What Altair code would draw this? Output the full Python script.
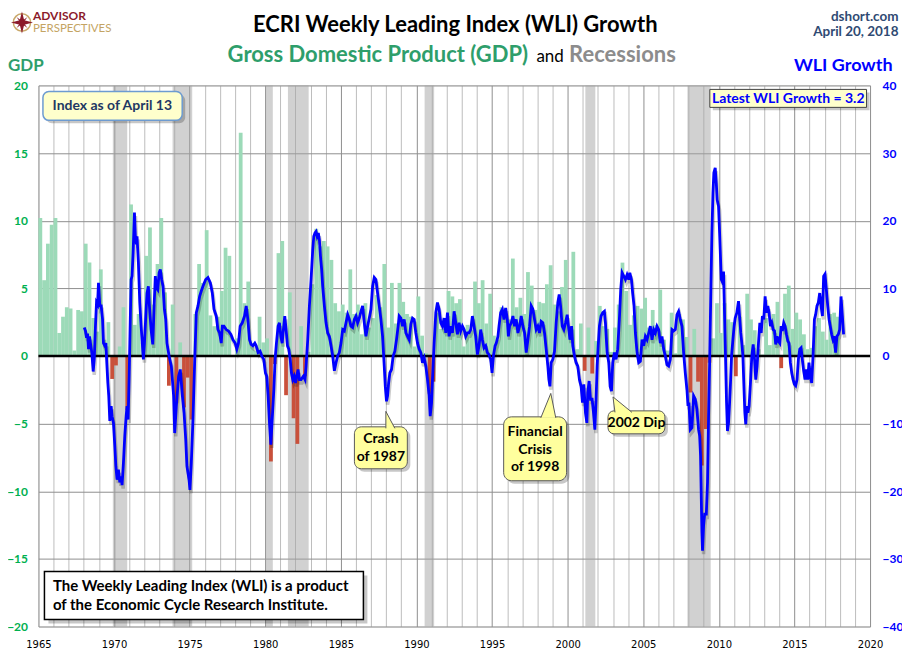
import altair as alt
import pandas as pd

# ---------------- data ----------------
gdp_first_year = 1965
# real GDP growth, quarterly (annualised %), 1965Q1 .. 2017Q4
gdp_growth = [
    10.2, 5.6, 8.3, 9.7,    # 1965
    10.2, 1.7, 2.9, 3.6,    # 1966
    3.5, 0.4, 3.4, 3.3,     # 1967
    8.3, 6.9, 2.8, 1.8,     # 1968
    6.4, 1.2, 2.5, -1.7,    # 1969
    -0.7, 0.7, 3.6, -4.0,   # 1970
    11.2, 2.3, 3.1, 1.0,    # 1971
    7.4, 9.5, 3.8, 6.8,     # 1972
    10.2, 4.7, -2.2, 3.8,   # 1973
    -3.5, 1.0, -3.8, -1.6,  # 1974
    -4.7, 3.1, 6.8, 5.4,    # 1975
    9.3, 3.0, 2.2, 2.9,     # 1976
    4.8, 8.0, 7.4, 0.0,     # 1977
    1.3, 16.5, 3.9, 5.5,    # 1978
    0.7, 0.4, 2.9, 1.0,     # 1979
    1.3, -7.8, -0.6, 7.6,   # 1980
    8.5, -2.9, 4.7, -4.6,   # 1981
    -6.5, 2.2, -1.5, 0.3,   # 1982
    5.3, 9.4, 8.1, 8.5,     # 1983
    8.1, 7.1, 3.9, 3.3,     # 1984
    3.8, 3.2, 6.4, 3.1,     # 1985
    3.8, 1.6, 3.9, 2.1,     # 1986
    2.8, 4.5, 3.6, 6.8,     # 1987
    2.1, 5.4, 2.4, 5.4,     # 1988
    4.0, 3.1, 2.9, 0.7,     # 1989
    4.4, 1.5, 0.2, -2.8,    # 1990
    -1.9, 3.2, 2.0, 2.0,    # 1991
    4.8, 4.4, 3.9, 4.2,     # 1992
    0.7, 2.3, 1.9, 5.5,     # 1993
    3.9, 5.6, 2.4, 4.6,     # 1994
    1.5, 1.2, 3.6, 2.9,     # 1995
    2.7, 7.2, 3.6, 4.3,     # 1996
    3.1, 6.2, 5.2, 3.4,     # 1997
    4.0, 3.9, 5.3, 6.7,     # 1998
    3.8, 3.3, 5.1, 7.1,     # 1999
    1.5, 7.7, 0.5, 2.4,     # 2000
    -1.1, 2.1, -1.3, 1.1,   # 2001
    3.7, 2.2, 2.0, 0.3,     # 2002
    2.1, 3.8, 6.9, 4.8,     # 2003
    2.3, 3.0, 3.7, 3.5,     # 2004
    4.3, 2.1, 3.4, 2.3,     # 2005
    4.9, 1.2, 0.4, 3.2,     # 2006
    0.2, 3.1, 2.7, 1.4,     # 2007
    -2.7, 2.0, -1.9, -8.1,  # 2008
    -5.4, -0.5, 1.3, 3.9,   # 2009
    1.7, 3.9, 2.7, 2.5,     # 2010
    -1.5, 2.9, 0.8, 4.6,    # 2011
    2.7, 1.9, 0.5, 0.1,     # 2012
    2.8, 0.8, 3.1, 4.0,     # 2013
    -0.9, 4.6, 5.2, 2.0,    # 2014
    3.2, 2.7, 1.6, 0.5,     # 2015
    0.6, 2.2, 2.8, 1.8,     # 2016
    1.2, 3.1, 3.2, 2.9,     # 2017
]

# NBER recessions (decimal years)
rec_start = [1969.92, 1973.87, 1980.00, 1981.50, 1990.54, 2001.17, 2007.92]
rec_end = [1970.87, 1975.17, 1980.50, 1982.87, 1991.17, 2001.83, 2009.46]

# ECRI WLI growth
wli_year = [
    1968.03, 1968.11, 1968.18, 1968.25, 1968.31, 1968.38, 1968.44, 1968.53, 1968.62, 1968.69, 1968.77, 1968.84, 1968.91, 1968.97,
    1969.06, 1969.15, 1969.24, 1969.30, 1969.39, 1969.46, 1969.52, 1969.59, 1969.65, 1969.72, 1969.81, 1969.87, 1969.96,
    1970.05, 1970.12, 1970.20, 1970.29, 1970.38, 1970.47, 1970.53, 1970.62, 1970.71, 1970.80, 1970.86, 1970.93,
    1971.00, 1971.06, 1971.13, 1971.19, 1971.26, 1971.35, 1971.41, 1971.48, 1971.52, 1971.61, 1971.70, 1971.79, 1971.88, 1971.94,
    1972.01, 1972.10, 1972.18, 1972.27, 1972.34, 1972.45, 1972.56, 1972.65, 1972.73, 1972.80, 1972.89, 1972.98,
    1973.06, 1973.15, 1973.24, 1973.33, 1973.42, 1973.50, 1973.64, 1973.79, 1973.94,
    1974.01, 1974.12, 1974.27, 1974.38, 1974.52, 1974.63, 1974.74, 1974.82, 1974.96,
    1975.02, 1975.11, 1975.22, 1975.33, 1975.44, 1975.55, 1975.66, 1975.77, 1975.88,
    1976.06, 1976.21, 1976.37, 1976.50, 1976.61, 1976.76, 1976.87, 1976.98,
    1977.09, 1977.16, 1977.27, 1977.42, 1977.57, 1977.73, 1977.86,
    1978.01, 1978.12, 1978.23, 1978.34, 1978.48, 1978.63, 1978.74, 1978.85, 1978.96,
    1979.07, 1979.18, 1979.31, 1979.40, 1979.53, 1979.66, 1979.77, 1979.90,
    1980.01, 1980.10, 1980.19, 1980.28, 1980.37, 1980.46, 1980.57, 1980.65, 1980.74, 1980.85, 1980.94,
    1981.03, 1981.12, 1981.20, 1981.29, 1981.38, 1981.47, 1981.56, 1981.65, 1981.73, 1981.82, 1981.91,
    1982.00, 1982.08, 1982.17, 1982.26, 1982.37, 1982.52, 1982.63, 1982.70, 1982.81, 1982.92,
    1983.03, 1983.14, 1983.21, 1983.29, 1983.36, 1983.43, 1983.51, 1983.58, 1983.65, 1983.73, 1983.80, 1983.91,
    1984.02, 1984.13, 1984.24, 1984.35, 1984.46, 1984.57, 1984.68, 1984.79, 1984.90,
    1985.01, 1985.12, 1985.23, 1985.34, 1985.45, 1985.56, 1985.67, 1985.78, 1985.89,
    1986.00, 1986.11, 1986.22, 1986.33, 1986.44, 1986.55, 1986.66, 1986.77, 1986.88, 1986.99,
    1987.10, 1987.21, 1987.32, 1987.43, 1987.54, 1987.65, 1987.76, 1987.87, 1987.94,
    1988.02, 1988.09, 1988.16, 1988.24, 1988.35, 1988.46, 1988.57, 1988.68, 1988.79, 1988.86, 1988.97,
    1989.08, 1989.19, 1989.30, 1989.41, 1989.52, 1989.63, 1989.74, 1989.85, 1989.96,
    1990.07, 1990.18, 1990.29, 1990.40, 1990.51, 1990.62, 1990.73, 1990.84, 1990.91,
    1991.00, 1991.06, 1991.17, 1991.28, 1991.39, 1991.50, 1991.61, 1991.72, 1991.83, 1991.94,
    1992.05, 1992.16, 1992.27, 1992.38, 1992.49, 1992.60, 1992.71, 1992.82, 1992.93,
    1993.04, 1993.15, 1993.26, 1993.37, 1993.48, 1993.59, 1993.70, 1993.81, 1993.92,
    1994.03, 1994.14, 1994.25, 1994.36, 1994.47, 1994.58, 1994.69, 1994.80, 1994.91,
    1995.00, 1995.09, 1995.20, 1995.28, 1995.39, 1995.46, 1995.57, 1995.68, 1995.79, 1995.90,
    1996.01, 1996.08, 1996.16, 1996.27, 1996.38, 1996.49, 1996.60, 1996.71, 1996.82, 1996.93,
    1997.04, 1997.15, 1997.26, 1997.37, 1997.48, 1997.59, 1997.70, 1997.81, 1997.92,
    1998.03, 1998.14, 1998.25, 1998.36, 1998.47, 1998.58, 1998.69, 1998.76, 1998.83, 1998.91,
    1999.02, 1999.13, 1999.24, 1999.35, 1999.44, 1999.53, 1999.64, 1999.75, 1999.86, 1999.97,
    2000.08, 2000.15, 2000.26, 2000.34, 2000.45, 2000.56, 2000.67, 2000.78, 2000.89, 2000.98,
    2001.07, 2001.18, 2001.27, 2001.33, 2001.42, 2001.51, 2001.62, 2001.71, 2001.80, 2001.88, 2001.95,
    2002.02, 2002.10, 2002.21, 2002.32, 2002.43, 2002.50, 2002.61, 2002.72, 2002.81, 2002.90, 2002.98,
    2003.09, 2003.20, 2003.31, 2003.42, 2003.51, 2003.60, 2003.71, 2003.82, 2003.93,
    2004.04, 2004.11, 2004.22, 2004.30, 2004.39, 2004.48, 2004.59, 2004.70, 2004.81, 2004.92,
    2005.03, 2005.14, 2005.25, 2005.36, 2005.47, 2005.58, 2005.69, 2005.80, 2005.91,
    2006.02, 2006.13, 2006.24, 2006.35, 2006.46, 2006.57, 2006.68, 2006.79, 2006.90,
    2007.01, 2007.12, 2007.23, 2007.34, 2007.45, 2007.56, 2007.67, 2007.78, 2007.89, 2007.96,
    2008.02, 2008.11, 2008.22, 2008.33, 2008.44, 2008.55, 2008.66, 2008.73, 2008.79, 2008.84, 2008.88, 2008.92, 2008.99,
    2009.06, 2009.17, 2009.25, 2009.32, 2009.39, 2009.45, 2009.54, 2009.61, 2009.67, 2009.76, 2009.83, 2009.89, 2009.98,
    2010.05, 2010.09, 2010.16, 2010.20, 2010.31, 2010.38, 2010.44, 2010.51, 2010.57, 2010.64, 2010.71, 2010.77, 2010.84, 2010.93,
    2011.01, 2011.08, 2011.19, 2011.30, 2011.37, 2011.45, 2011.52, 2011.59, 2011.65, 2011.72, 2011.78, 2011.85, 2011.92,
    2012.00, 2012.09, 2012.18, 2012.27, 2012.36, 2012.44, 2012.53, 2012.62, 2012.71, 2012.80, 2012.88, 2012.97,
    2013.06, 2013.15, 2013.24, 2013.32, 2013.41, 2013.50, 2013.59, 2013.68, 2013.76, 2013.85, 2013.94,
    2014.03, 2014.12, 2014.20, 2014.29, 2014.38, 2014.47, 2014.56, 2014.64, 2014.73, 2014.82, 2014.91,
    2015.00, 2015.08, 2015.17, 2015.26, 2015.35, 2015.44, 2015.52, 2015.61, 2015.70, 2015.79, 2015.88, 2015.96,
    2016.05, 2016.14, 2016.23, 2016.32, 2016.40, 2016.49, 2016.58, 2016.67, 2016.76, 2016.85, 2016.93,
    2017.02, 2017.11, 2017.20, 2017.29, 2017.37, 2017.46, 2017.55, 2017.64, 2017.72, 2017.81, 2017.90, 2017.99,
    2018.08, 2018.17, 2018.25,
]
wli_growth = [
    4.2, 3.7, 2.7, 3.3, 1.0, 2.9, 1.9, 0.5, -2.3, -0.5, 4.4, 7.9, 7.6, 10.8,
    7.4, 7.4, 5.4, 1.9, 1.5, 1.9, -1.0, -4.0, -5.9, -9.6, -7.4, -8.9, -9.9,
    -13.3, -16.3, -18.3, -16.8, -18.7, -17.8, -19.1, -15.8, -11.8, -8.9, -7.4, -9.4,
    -3.0, 3.9, 11.3, 11.8, 15.2, 21.2, 17.7, 16.5, 17.7, 13.8, 7.9, 4.4, 1.5, -0.5,
    1.9, 5.9, 9.3, 10.3, 7.4, 3.9, 1.7, 7.4, 11.8, 10.1, 9.8, 12.3,
    12.8, 11.3, 10.3, 6.9, 5.4, 1.9, 0.0, -1.5, -5.9,
    -11.4, -7.4, -3.0, -2.0, -5.9, -8.4, -12.3, -16.3, -18.3,
    -19.8, -15.8, -9.4, -1.0, 6.4, 7.4, 8.8, 9.6, 10.3,
    11.3, 11.6, 10.8, 9.3, 6.9, 5.9, 3.9, 3.4,
    1.9, 4.4, 4.4, 3.9, 3.7, 3.2, 2.4,
    1.9, 1.0, 1.9, 4.4, 4.9, 5.9, 7.4, 5.4, 2.4,
    1.7, 1.5, 1.9, 1.5, 0.5, 0.7, 0.0, -0.5,
    -2.5, -3.0, -5.9, -9.9, -13.1, -9.4, -4.9, -0.5, 1.9, 4.4, 4.9,
    2.9, 1.9, 3.9, 5.9, 3.9, 1.5, 1.0, -0.5, -2.5, -3.5, -3.0,
    -4.0, -3.0, -2.0, -3.5, -3.5, -3.0, -3.5, -1.5, 2.4, 7.4,
    11.3, 15.7, 17.7, 18.2, 18.4, 17.7, 18.2, 17.2, 14.8, 12.8, 10.3, 7.4,
    4.9, 3.4, 2.9, 1.5, 0.0, -2.2, -1.0, 0.0, 0.5,
    1.9, 3.9, 3.7, 4.9, 6.1, 5.4, 4.4, 4.2, 5.4,
    5.9, 4.9, 5.6, 6.6, 7.4, 4.9, 2.9, 4.4, 5.6, 6.9,
    10.3, 11.6, 11.3, 9.3, 7.4, 5.4, 2.9, -1.5, -4.5,
    -6.7, -5.9, -4.0, -2.5, -2.0, 0.0, 0.7, 2.4, 4.4, 5.9, 5.6,
    4.4, 5.4, 3.4, 2.9, 2.4, 4.7, 5.6, 5.4, 3.4,
    1.9, 1.0, 0.5, -1.0, -0.3, -1.5, -3.5, -5.9, -8.9,
    -6.9, -3.5, 1.9, 6.4, 7.9, 6.9, 4.9, 4.4, 5.6, 3.4,
    6.4, 2.9, 4.4, 3.4, 6.6, 4.9, 3.2, 4.9, 3.7,
    4.4, 3.9, 2.9, 3.4, 3.4, 3.9, 5.9, 4.4, 2.9,
    0.2, 1.5, 3.9, 2.4, 1.2, 1.5, 0.5, 0.2, -0.5,
    -2.5, 0.0, 1.5, 1.9, 2.9, 4.4, 6.4, 6.9, 5.4, 7.1,
    5.4, 2.9, 4.4, 4.9, 5.9, 4.4, 5.4, 3.4, 4.4, 5.9,
    4.4, 3.4, 0.5, 2.4, 4.4, 7.4, 6.9, 5.4, 3.9,
    4.4, 3.4, 5.1, 4.9, 3.4, 1.0, -1.5, -3.5, -4.5, -1.0,
    -0.5, 0.7, 4.9, 7.9, 9.1, 7.4, 4.4, 3.9, 4.9, 6.1,
    3.9, 2.4, 4.4, 1.5, 0.0, -1.0, -1.5, -3.5, -4.5, -6.9,
    -4.2, -8.4, -9.9, -5.4, -3.7, -6.4, -6.4, -8.4, -10.9, -6.4, -1.5,
    1.5, 4.4, 5.9, 6.4, 6.6, 4.9, 0.5, -1.0, -4.5, -5.2, -1.0,
    0.5, -0.5, 1.0, 5.4, 9.8, 12.3, 11.8, 11.3, 12.0,
    11.3, 12.3, 11.3, 9.3, 7.4, 3.4, 0.5, -1.0, -0.8, 2.4,
    1.5, 2.9, 2.4, 3.4, 4.4, 2.4, 3.9, 3.4, 4.4,
    3.9, 1.9, 2.9, 1.0, 0.0, -1.3, -1.5, -0.5, 3.9,
    3.7, 3.9, 6.1, 6.6, 5.4, 4.4, 0.5, -2.5, -5.0, -7.4,
    -6.9, -10.9, -10.6, -5.9, -6.4, -7.9, -10.9, -11.8, -14.8, -21.2, -26.1, -28.8, -25.1,
    -23.4, -23.4, -18.7, -8.9, -1.0, 6.9, 18.2, 24.1, 27.1, 27.8, 25.6, 23.1, 22.1,
    18.2, 15.7, 11.3, 11.1, 12.5, 5.9, 0.0, -6.9, -11.1, -9.9, -6.9, -4.0, 0.0, 2.4,
    4.4, 5.6, 6.4, 8.1, 5.9, 3.4, 1.9, 0.0, -4.0, -8.4, -10.1, -7.4, -8.4,
    -7.4, -4.0, 0.0, 1.7, -0.5, -3.5, -1.5, 1.9, 4.9, 3.4, 5.9, 5.4,
    8.8, 6.4, 7.4, 6.4, 4.4, 4.9, 3.9, 3.7, 1.7, 2.9, 2.2,
    1.9, 4.4, 3.7, 4.9, 4.4, 3.2, 2.2, 1.9, -1.0, -2.5, -3.5,
    -4.2, -4.4, -3.5, -0.5, 1.0, 1.2, -0.5, -2.2, -3.5, -2.0, -3.5, -1.0,
    -3.0, -4.0, 0.0, 5.4, 6.1, 7.4, 7.9, 9.3, 7.4, 5.9, 11.8,
    12.1, 9.8, 7.4, 5.4, 4.4, 3.2, 2.4, 2.9, 0.5, 2.9, 3.2, 3.9,
    8.8, 5.9, 3.2,
]

x_ticks = list(range(1965, 2021))
gdp_ticks = list(range(-20, 21, 5))
wli_ticks = list(range(-40, 41, 10))

# ---------------- tables ----------------
gdp_df = pd.DataFrame({"gdp": gdp_growth})
gdp_df["start"] = gdp_first_year + gdp_df.index / 4.0
gdp_df["end"] = gdp_df["start"] + 0.25
gdp_df["base"] = 0.0
rec_df = pd.DataFrame({"start": rec_start, "end": rec_end})
wli_df = pd.DataFrame({"year": wli_year, "wli": wli_growth})
zero_df = pd.DataFrame({"v": [0.0]})
one = pd.DataFrame({"k": [0]})

W, H = 833, 542
OX, OY = 38.5, 85.0  # plot origin in page pixels

x_scale = alt.Scale(domain=[1965, 2020], nice=False, zero=False)
gdp_scale = alt.Scale(domain=[-20, 20], nice=False, zero=False)
wli_scale = alt.Scale(domain=[-40, 40], nice=False, zero=False)

x_axis = alt.Axis(
    values=x_ticks, format="d",
    labelExpr="datum.value % 5 === 0 ? datum.label : ''",
    grid=True,
    gridColor={"condition": {"test": "datum.value % 5 === 0", "value": "#8f8f8f"}, "value": "#bdbdbd"},
    gridWidth=1, ticks=False, tickSize=0, domain=False,
    labelFont="DejaVu Sans", labelFontSize=10, labelColor="#000000",
    labelPadding=13, labelFlush=False, labelOverlap=False, title=None,
)
gdp_axis = alt.Axis(
    orient="left", values=gdp_ticks, grid=True, gridColor="#8f8f8f", gridWidth=1,
    ticks=False, tickSize=0, domain=False,
    labelFont="Lato", labelFontSize=12, labelFontWeight="bold", labelColor="#00b050",
    labelPadding=11, labelFlush=False, labelOverlap=False, title=None,
)
wli_axis = alt.Axis(
    orient="right", values=wli_ticks, grid=False,
    ticks=False, tickSize=0, domain=False,
    labelFont="Lato", labelFontSize=12, labelFontWeight="bold", labelColor="#0000ff",
    labelPadding=12, labelFlush=False, labelOverlap=False, labelAlign="left", title=None,
)

recess = alt.Chart(rec_df).mark_rect(color="#a3a3a3", opacity=0.5).encode(
    x=alt.X("start:Q", scale=x_scale, axis=x_axis), x2="end:Q"
)
bars = alt.Chart(gdp_df).mark_rect().encode(
    x=alt.X("start:Q", scale=x_scale, axis=x_axis), x2="end:Q",
    y=alt.Y("gdp:Q", scale=gdp_scale, axis=gdp_axis), y2="base:Q",
    color=alt.condition(alt.datum.gdp < 0, alt.value("#c9503b"), alt.value("#9cdab8")),
)
zero_rule = alt.Chart(zero_df).mark_rule(color="#000000", strokeWidth=2.5).encode(
    y=alt.Y("v:Q", scale=gdp_scale, axis=gdp_axis)
)
gdp_group = alt.layer(recess, bars, zero_rule)

wli_shadow = alt.Chart(wli_df).transform_calculate(
    xs="datum.year + 0.07", ys="datum.wli - 0.5"
).mark_line(color="#000000", opacity=0.2, strokeWidth=3.5).encode(
    x=alt.X("xs:Q", scale=x_scale, axis=x_axis),
    y=alt.Y("ys:Q", scale=wli_scale, axis=wli_axis),
)
wli_line = alt.Chart(wli_df).mark_line(color="#0000ff", strokeWidth=2.8).encode(
    x=alt.X("year:Q", scale=x_scale, axis=x_axis),
    y=alt.Y("wli:Q", scale=wli_scale, axis=wli_axis),
)
wli_group = alt.layer(wli_shadow, wli_line)


# ---------------- annotation helpers (page pixel positions) ----------------
def text_mark(s, X, Y, size, color, weight="bold", align="center", font="Lato", baseline="middle"):
    return alt.Chart(one).mark_text(
        text=s, align=align, baseline=baseline, font=font,
        fontSize=size, fontWeight=weight, color=color,
    ).encode(x=alt.value(X - OX), y=alt.value(Y - OY))


def rect_mark(X1, Y1, X2, Y2, fill, stroke=None, sw=1.0, radius=0, opacity=1.0):
    kw = dict(fill=fill, cornerRadius=radius, opacity=opacity)
    if stroke:
        kw.update(stroke=stroke, strokeWidth=sw)
    return alt.Chart(one).mark_rect(**kw).encode(
        x=alt.value(X1 - OX), x2=alt.value(X2 - OX),
        y=alt.value(Y1 - OY), y2=alt.value(Y2 - OY),
    )


def path_mark(path, X, Y, fill, stroke=None, sw=1.0, opacity=1.0):
    kw = dict(shape=path, size=4, filled=True, fill=fill, opacity=opacity)
    if stroke:
        kw.update(stroke=stroke, strokeWidth=sw)
    return alt.Chart(one).mark_point(**kw).encode(x=alt.value(X - OX), y=alt.value(Y - OY))


def shadowed_box(X1, Y1, X2, Y2, fill, stroke, sw=1.0, radius=0, off=3):
    return [
        rect_mark(X1 + off, Y1 + off, X2 + off, Y2 + off, "#000000", radius=radius, opacity=0.22),
        rect_mark(X1, Y1, X2, Y2, fill, stroke, sw, radius),
    ]


YEL = "#ffff9e"
CALL_STROKE = "#5a5a5a"
ann = []

# header
ann.append(text_mark("ECRI Weekly Leading Index (WLI) Growth", 456, 25, 22, "#000000"))
ann.append(text_mark("Gross Domestic Product (GDP)", 529, 62, 22, "#2e9e6b", align="right", baseline="alphabetic"))
ann.append(text_mark("and", 551, 62, 17, "#000000", weight="normal", baseline="alphabetic"))
ann.append(text_mark("Recessions", 570, 62, 22, "#8c8c8c", align="left", baseline="alphabetic"))
ann.append(text_mark("GDP", 8, 66, 17, "#2e9e6b", align="left"))
ann.append(text_mark("WLI Growth", 894, 66, 18, "#0000ff", align="right"))
ann.append(text_mark("dshort.com", 900, 16, 13.5, "#2f4a73", align="right"))
ann.append(text_mark("April 20, 2018", 900, 32, 13.5, "#2f4a73", align="right"))

# logo
ann.append(alt.Chart(one).mark_point(shape="circle", size=300, filled=False, stroke="#c9a86a",
                                     strokeWidth=1.5, opacity=1).encode(x=alt.value(22 - OX), y=alt.value(22 - OY)))
ann.append(path_mark("M0,-11L2.2,-2.2L11,0L2.2,2.2L0,11L-2.2,2.2L-11,0L-2.2,-2.2Z", 22, 22, "#8b1a2b"))
ann.append(path_mark("M5.5,-5.5L1.5,0L5.5,5.5L0,1.5L-5.5,5.5L-1.5,0L-5.5,-5.5L0,-1.5Z", 22, 22, "#8b1a2b"))
ann.append(text_mark("ADVISOR", 33, 15, 12, "#8b1a2b", align="left"))
ann.append(text_mark("PERSPECTIVES", 33, 29, 11.5, "#c4a463", weight="normal", align="left"))

# info boxes
ann += shadowed_box(43, 91, 182.5, 120, "#ffffcc", "#6d9bd1", 1.5, radius=6)
ann.append(text_mark("Index as of April 13", 112.5, 106, 14, "#1f3864"))
ann += shadowed_box(711, 89, 868, 107, "#ffffcc", "#404040", 1.0, radius=0)
ann.append(text_mark("Latest WLI Growth = 3.2", 789.5, 98.5, 14, "#0000ff"))
ann += shadowed_box(44.5, 572, 364, 620, "#ffffff", "#000000", 1.5, radius=0, off=4)
ann.append(text_mark("The Weekly Leading Index (WLI) is a product", 53, 586.5, 15, "#000000", align="left"))
ann.append(text_mark("of the Economic Cycle Research Institute.", 53, 605.5, 15, "#000000", align="left"))

# callouts
ann += shadowed_box(355, 427, 408, 469, YEL, CALL_STROKE, 1.0, radius=7)
ann.append(path_mark("M0,17L0,0L9,17", 386.5, 411.5, YEL, CALL_STROKE))
ann.append(text_mark("Crash", 381.5, 439.5, 14, "#000000"))
ann.append(text_mark("of 1987", 381.5, 457.5, 14, "#000000"))

ann += shadowed_box(504.5, 417, 567.5, 481, YEL, CALL_STROKE, 1.0, radius=8)
ann.append(path_mark("M-10,24.5L0,0L5,24.5", 551.7, 393.5, YEL, CALL_STROKE))
ann.append(text_mark("Financial", 536, 432, 14, "#000000"))
ann.append(text_mark("Crisis", 536, 450, 14, "#000000"))
ann.append(text_mark("of 1998", 536, 467.5, 14, "#000000"))

ann += shadowed_box(609, 411, 666, 434, YEL, CALL_STROKE, 1.0, radius=6)
ann.append(path_mark("M2,15.5L0,0L19,15.5", 614, 397, YEL, CALL_STROKE))
ann.append(text_mark("2002 Dip", 637.5, 423, 14, "#000000"))

chart = alt.layer(gdp_group, wli_group, *ann).resolve_scale(y="independent").properties(
    width=W, height=H,
    padding={"left": 30.5, "top": 77, "right": 32, "bottom": 25},
    autosize=alt.AutoSizeParams(type="none"),
).configure_view(stroke="#8c8c8c", strokeWidth=1).configure(background="#ffffff")

chart.save("out.html", embed_options={"renderer": "svg", "actions": False})
